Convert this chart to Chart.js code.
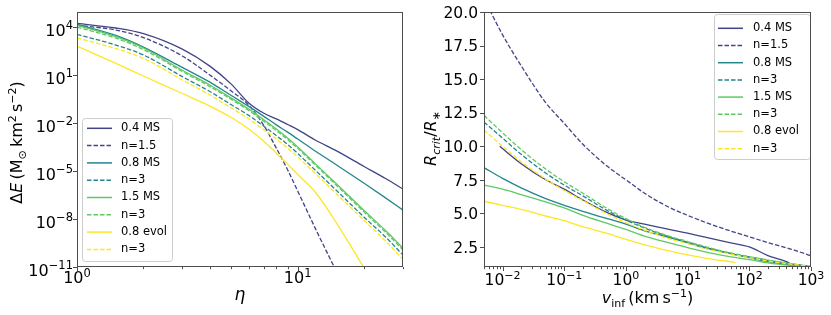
<!DOCTYPE html>
<html>
<head>
<meta charset="utf-8">
<script src="https://cdn.jsdelivr.net/npm/chart.js@4.4.0/dist/chart.umd.min.js"></script>
<style>
  html, body { margin: 0; padding: 0; background: #fff; }
  #wrap { position: relative; width: 831px; height: 315px; }
  .box { position: absolute; top: 0; height: 315px; }
</style>
</head>
<body>
<div id="wrap">
  <div class="box" style="left:0;width:415px"><canvas id="left"></canvas></div>
  <div class="box" style="left:415px;width:416px"><canvas id="right"></canvas></div>
</div>
<script>
// ---- left panel: energy change vs eta ----
const eta = [1, 1.5, 2, 3, 4, 5, 6, 7, 8, 9, 10, 12, 15, 20, 25, 30];
const dE_04MS   = [1.7e4, 8.7e3, 3.9e3, 420, 36, 2.7, 0.18, 0.042, 0.018, 8.1e-3, 3.9e-3, 8.7e-4, 1.8e-4, 1.9e-5, 3.4e-6, 7.5e-7];
const dE_04n15  = [1.3e4, 6.5e3, 2.2e3, 155, 10, 1.0, 0.13, 7.5e-3, 2.7e-4, 1.2e-5, 5.6e-7, 2.7e-9, 5e-12, null, null, null];
const dE_08MS   = [1.5e4, 3.0e3, 560, 30, 3.6, 0.52, 0.11, 0.027, 7.7e-3, 2.7e-3, 1.0e-3, 1.8e-4, 2.4e-5, 1.7e-6, 2.1e-7, 3.6e-8];
const dE_08n3   = [3.5e3, 750, 180, 8.0, 0.93, 0.14, 0.03, 6.5e-3, 1.65e-3, 4.6e-4, 1.25e-4, 1.15e-5, 6e-7, 1.3e-8, 7.5e-10, 5.6e-11];
const dE_15MS   = [1.3e4, 2.5e3, 490, 20, 2.4, 0.36, 0.075, 0.0165, 4.2e-3, 1.15e-3, 3.2e-4, 2.9e-5, 1.55e-6, 3.4e-8, 1.9e-9, 1.5e-10];
const dE_15n3   = [1.0e4, 2.0e3, 390, 16.6, 1.9, 0.3, 0.06, 0.0133, 3.4e-3, 9.3e-4, 2.6e-4, 2.4e-5, 1.25e-6, 2.7e-8, 1.5e-9, 1.15e-10];
const dE_08ev   = [650, 53, 8.7, 0.7, 0.115, 0.022, 4.2e-3, 7.5e-4, 1.3e-4, 2.7e-5, 6e-6, 4.9e-7, 5.6e-9, 8.7e-12, null, null];
const dE_08evn3 = [2.1e3, 450, 110, 4.9, 0.56, 0.087, 0.018, 3.9e-3, 1.0e-3, 2.7e-4, 7.5e-5, 7e-6, 3.7e-7, 8e-9, 4.2e-10, 3e-11];

// ---- right panel: critical radius vs v_inf ----
const vinf = [0.005, 0.01, 0.02, 0.05, 0.1, 0.2, 0.5, 1, 2, 5, 10, 20, 50, 100, 200, 500, 1000];
const vinf04 = [0.009, 0.02, 0.05, 0.1, 0.2, 0.5, 1, 2, 5, 10, 20, 50, 100, 200, 400, 500];
const vinfEv = [0.005, 0.01, 0.02, 0.05, 0.1, 0.2, 0.5, 1, 2, 5, 10, 20, 60];
const R_04MS   = [10.0, 8.7, 7.5, 6.8, 6.0, 5.05, 4.5, 4.2, 3.8, 3.52, 3.2, 2.8, 2.5, 1.85, 1.4, 1.15];
const R_04n15  = [21.0, 18.3, 16.0, 13.25, 11.7, 10.15, 8.5, 7.5, 6.5, 5.45, 4.85, 4.3, 3.68, 3.25, 2.82, 2.3, 1.83];
const R_08MS   = [8.4, 7.6, 6.9, 6.1, 5.6, 5.15, 4.6, 4.2, 3.7, 3.2, 2.8, 2.4, 2.0, 1.7, 1.4, 1.15, 1.05];
const R_08n3   = [11.8, 10.6, 9.4, 8.0, 7.1, 6.3, 5.2, 4.5, 3.9, 3.25, 2.85, 2.45, 2.0, 1.75, 1.5, 1.22, 1.05];
const R_15MS   = [7.1, 6.8, 6.4, 5.85, 5.4, 4.85, 4.25, 3.8, 3.3, 2.8, 2.45, 2.1, 1.75, 1.55, 1.3, 1.1, 1.0];
const R_15n3   = [12.3, 11.0, 9.75, 8.3, 7.35, 6.5, 5.35, 4.6, 3.95, 3.3, 2.9, 2.5, 2.05, 1.78, 1.52, 1.23, 1.05];
const R_08ev   = [5.9, 5.6, 5.3, 4.8, 4.45, 4.0, 3.5, 3.05, 2.65, 2.2, 1.9, 1.65, 1.35];
const R_08evn3 = [11.2, 10.0, 8.85, 7.55, 6.7, 5.95, 4.95, 4.3, 3.75, 3.1, 2.75, 2.35, 1.95, 1.7, 1.45, 1.2, 1.05];

const labels = ['0.4 MS', 'n=1.5', '0.8 MS', 'n=3', '1.5 MS', 'n=3', '0.8 evol', 'n=3'];
const colors = ['#414487', '#414487', '#25858e', '#25858e', '#5ec962', '#5ec962', '#fde725', '#fde725'];
const DASH = [4.5, 2];

const FAM = "'DejaVu Sans'";
const f = (size, it) => (it ? 'italic ' : '') + size + 'px ' + FAM;

function pts(xs, ys) {
  const out = [];
  xs.forEach((x, i) => { if (ys[i] != null) out.push({ x: x, y: ys[i] }); });
  return out;
}

function makeSets(series) {
  return series.map((s, i) => ({
    label: labels[i],
    data: pts(s[0], s[1]),
    borderColor: colors[i],
    borderWidth: 1.3,
    borderDash: i % 2 ? DASH : [],
    pointRadius: 0,
    fill: false,
    cubicInterpolationMode: 'monotone',
    order: 8 - i
  }));
}

// draw mixed-size text (superscripts etc), y is the baseline
function drawRich(ctx, parts, x, y, align) {
  let w = 0;
  parts.forEach(p => { ctx.font = p.f; w += ctx.measureText(p.t).width; });
  let cx = align === 'center' ? x - w / 2 : align === 'right' ? x - w : x;
  parts.forEach(p => {
    ctx.font = p.f;
    ctx.fillText(p.t, cx, y + (p.dy || 0));
    cx += ctx.measureText(p.t).width;
  });
}

const pow10 = (e, big, small) => [{ t: '10', f: f(big) }, { t: String(e).replace('-', '\u2212'), f: f(small), dy: -6.5 }];

const mplAxes = {
  id: 'mplAxes',
  afterDatasetsDraw(chart, args, o) {
    const ctx = chart.ctx, a = chart.chartArea;
    const xs = chart.scales.x, ys = chart.scales.y;
    ctx.save();
    ctx.fillStyle = '#000';
    ctx.textBaseline = 'alphabetic';

    // legend box
    const L = o.legend;
    ctx.fillStyle = 'rgba(255,255,255,0.8)';
    ctx.strokeStyle = '#cccccc';
    ctx.lineWidth = 1;
    ctx.beginPath();
    ctx.roundRect(L.x0 + 0.5, L.y0 + 0.5, L.x1 - L.x0, L.y1 - L.y0, 3);
    ctx.fill();
    ctx.stroke();
    chart.data.datasets.forEach((d, i) => {
      const y = L.first + i * L.step;
      ctx.strokeStyle = d.borderColor;
      ctx.lineWidth = 1.5;
      ctx.setLineDash(d.borderDash);
      ctx.beginPath();
      ctx.moveTo(L.lx0, y);
      ctx.lineTo(L.lx1, y);
      ctx.stroke();
      ctx.setLineDash([]);
      ctx.fillStyle = '#000';
      ctx.font = f(11.5);
      ctx.textBaseline = 'middle';
      ctx.fillText(d.label, L.tx, y);
    });
    ctx.textBaseline = 'alphabetic';

    // frame
    ctx.strokeStyle = '#4d4d4d';
    ctx.lineWidth = 1;
    ctx.strokeRect(Math.round(a.left) + 0.5, Math.round(a.top) + 0.5,
      Math.round(a.right - a.left) - 1, Math.round(a.bottom - a.top) - 1);

    // ticks
    ctx.beginPath();
    o.xTicks.forEach(t => {
      const px = Math.round(xs.getPixelForValue(t.v)) + 0.5;
      const len = t.lab ? 4 : 2.2;
      ctx.moveTo(px, a.bottom);
      ctx.lineTo(px, a.bottom + len);
    });
    o.yTicks.forEach(t => {
      const py = Math.round(ys.getPixelForValue(t.v)) + 0.5;
      const len = t.lab ? 4 : 2.2;
      ctx.moveTo(a.left, py);
      ctx.lineTo(a.left - len, py);
    });
    ctx.stroke();

    // tick labels
    ctx.fillStyle = '#000';
    o.xTicks.forEach(t => {
      if (!t.lab) return;
      drawRich(ctx, t.lab, xs.getPixelForValue(t.v), o.xLabBase, 'center');
    });
    o.yTicks.forEach(t => {
      if (!t.lab) return;
      drawRich(ctx, t.lab, o.yLabRight, ys.getPixelForValue(t.v) + o.yLabOff, 'right');
    });

    // axis titles
    drawRich(ctx, o.xTitle, (a.left + a.right) / 2, o.xTitleBase, 'center');
    ctx.save();
    ctx.translate(o.yTitleX, (a.top + a.bottom) / 2 + o.yTitleShift);
    ctx.rotate(-Math.PI / 2);
    drawRich(ctx, o.yTitle, 0, 0, 'center');
    ctx.restore();

    ctx.restore();
  }
};

function logTicks(lo, hi, majors, big, small) {
  const out = [];
  for (let e = Math.floor(Math.log10(lo)); e <= Math.ceil(Math.log10(hi)); e++) {
    for (let m = 1; m < 10; m++) {
      const v = m * Math.pow(10, e);
      if (v < lo * 0.999 || v > hi * 1.001) continue;
      out.push({ v: v, lab: (m === 1 && majors) ? pow10(e, big, small) : null });
    }
  }
  return out;
}

function baseOptions(yWidth, padRight, xs, ys, extra) {
  return {
    responsive: true,
    maintainAspectRatio: false,
    animation: false,
    devicePixelRatio: 1,
    layout: { padding: { top: 12, right: padRight, left: 0, bottom: 0 } },
    plugins: { legend: { display: false }, tooltip: { enabled: false }, mplAxes: extra },
    scales: {
      x: Object.assign({
        ticks: { display: false },
        grid: { display: false, drawTicks: false },
        border: { display: false },
        afterFit: s => { s.height = 48; }
      }, xs),
      y: Object.assign({
        ticks: { display: false },
        grid: { display: false, drawTicks: false },
        border: { display: false },
        afterFit: s => { s.width = yWidth; }
      }, ys)
    }
  };
}

// left chart
const leftTicksY = [4, 1, -2, -5, -8, -11].map(e => ({ v: Math.pow(10, e), lab: pow10(e, 16, 11.5) }));
new Chart(document.getElementById('left'), {
  type: 'line',
  data: {
    datasets: makeSets([
      [eta, dE_04MS], [eta, dE_04n15], [eta, dE_08MS], [eta, dE_08n3],
      [eta, dE_15MS], [eta, dE_15n3], [eta, dE_08ev], [eta, dE_08evn3]
    ])
  },
  options: baseOptions(77, 12,
    { type: 'logarithmic', min: 1, max: 30 },
    { type: 'logarithmic', min: 1e-11, max: Math.pow(10, 4.94) },
    {
      legend: { x0: 82, y0: 118, x1: 172, y1: 261, first: 128.3, step: 17.3, lx0: 87, lx1: 112, tx: 121 },
      xTicks: logTicks(1, 30, true, 16, 11.5),
      yTicks: leftTicksY,
      xLabBase: 283, yLabRight: 73, yLabOff: 8.7,
      xTitle: [{ t: '\u03b7', f: f(17, true) }], xTitleBase: 300,
      yTitle: [
        { t: '\u0394', f: f(16) }, { t: 'E', f: f(16, true) }, { t: '\u2009(M', f: f(16) },
        { t: '\u2299', f: f(11), dy: 3.5 }, { t: '\u2009km', f: f(16) }, { t: '2', f: f(11), dy: -6.5 },
        { t: '\u2009s', f: f(16) }, { t: '\u22122', f: f(11), dy: -6.5 }, { t: ')', f: f(16) }
      ],
      yTitleX: 22, yTitleShift: 3
    }),
  plugins: [mplAxes]
});

// right chart
const rightTicksY = [2.5, 5, 7.5, 10, 12.5, 15, 17.5, 20].map(v => ({ v: v, lab: [{ t: v.toFixed(1), f: f(15.5) }] }));
new Chart(document.getElementById('right'), {
  type: 'line',
  data: {
    datasets: makeSets([
      [vinf04, R_04MS], [vinf, R_04n15], [vinf, R_08MS], [vinf, R_08n3],
      [vinf, R_15MS], [vinf, R_15n3], [vinfEv, R_08ev], [vinf, R_08evn3]
    ])
  },
  options: baseOptions(69, 20,
    { type: 'logarithmic', min: 0.005, max: 1000 },
    { type: 'linear', min: 1.0, max: 20 },
    {
      legend: { x0: 299, y0: 14, x1: 395, y1: 159, first: 28.3, step: 17.2, lx0: 303, lx1: 328, tx: 338 },
      xTicks: logTicks(0.005, 1000, true, 15.5, 11),
      yTicks: rightTicksY,
      xLabBase: 285, yLabRight: 63, yLabOff: 5.8,
      xTitle: [
        { t: 'v', f: f(16, true) }, { t: 'inf', f: f(11), dy: 3.5 }, { t: '\u2009(km\u2009s', f: f(16) },
        { t: '\u22121', f: f(11), dy: -6.5 }, { t: ')', f: f(16) }
      ],
      xTitleBase: 303,
      yTitle: [
        { t: 'R', f: f(16, true) }, { t: 'crit', f: f(11, true), dy: 3.5 }, { t: '/', f: f(16) },
        { t: 'R', f: f(16, true) }, { t: '\u2217', f: f(11), dy: 3.5 }
      ],
      yTitleX: 21, yTitleShift: -1
    }),
  plugins: [mplAxes]
});
</script>
</body>
</html>
